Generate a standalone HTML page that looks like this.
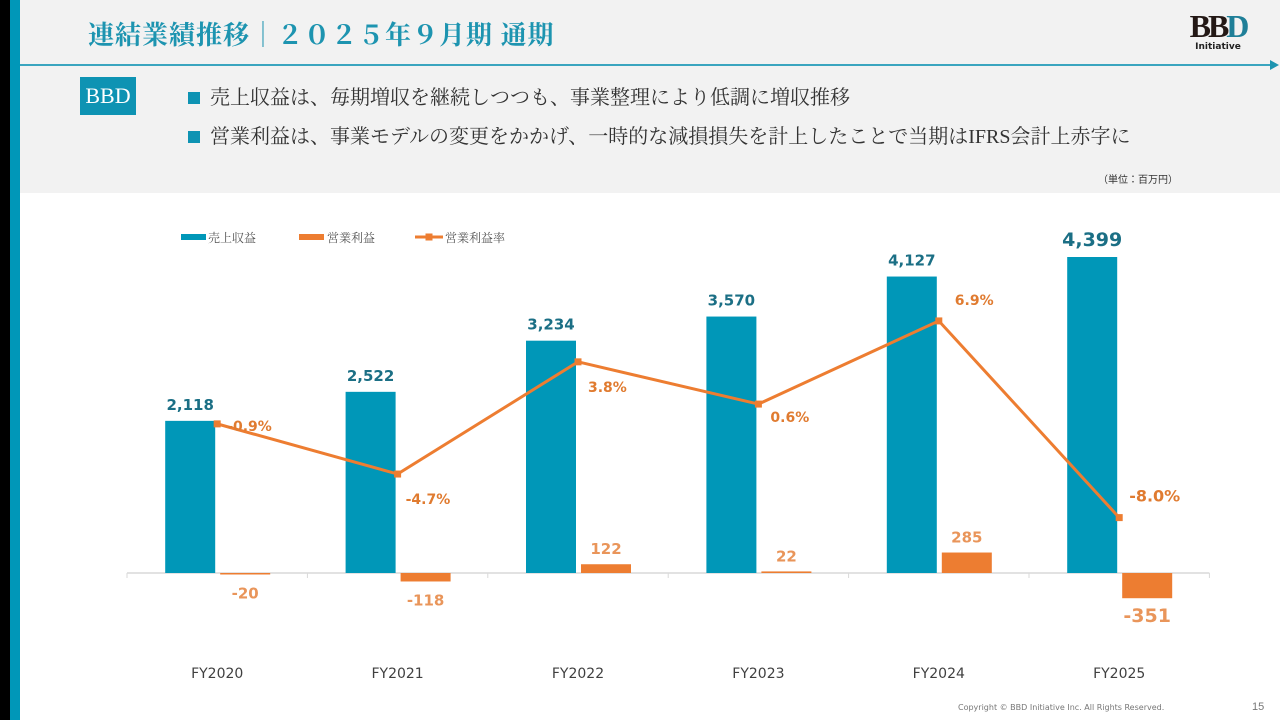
<!DOCTYPE html>
<html><head><meta charset="utf-8"><style>
body{margin:0;width:1280px;height:720px;overflow:hidden;background:#fff;font-family:"Liberation Serif","Noto Serif CJK JP",serif;position:relative}
.abs{position:absolute}
</style></head><body>
<div class="abs" style="left:0;top:0;width:1280px;height:193px;background:#f2f2f2"></div>
<div class="abs" style="left:0;top:0;width:10px;height:720px;background:#000"></div>
<div class="abs" style="left:10px;top:0;width:10px;height:720px;background:#0097b8"></div>
<div class="abs" style="left:88px;top:15px;font-size:26px;font-weight:bold;color:#1d94b0;letter-spacing:1px;white-space:nowrap">連結業績推移｜２０２５年９月期 通期</div>
<div class="abs" style="left:20px;top:64px;width:1252px;height:2px;background:#3aa5bf"></div>
<div class="abs" style="left:1270px;top:60px;width:0;height:0;border-left:9px solid #1d94b0;border-top:5px solid transparent;border-bottom:5px solid transparent"></div>
<div class="abs" style="left:1188px;top:10px;width:60px;text-align:center">
<div style="font-size:32px;font-weight:bold;line-height:32px;letter-spacing:-3px"><span style="color:#231815">BB</span><span style="color:#1f7f98">D</span></div>
<div style="font-family:'DejaVu Sans',sans-serif;font-size:9px;font-weight:bold;color:#222">Initiative</div></div>
<div class="abs" style="left:80px;top:77px;width:56px;height:38px;background:#0e93b3;color:#fff;font-size:22px;line-height:38px;text-align:center">BBD</div>
<div class="abs" style="left:188px;top:81px;font-size:20px;color:#333;white-space:nowrap"><span style="display:inline-block;width:12px;height:12px;background:#0e93b3;margin-right:10px"></span>売上収益は、毎期増収を継続しつつも、事業整理により低調に増収推移</div>
<div class="abs" style="left:188px;top:120px;font-size:20px;color:#333;white-space:nowrap"><span style="display:inline-block;width:12px;height:12px;background:#0e93b3;margin-right:10px"></span>営業利益は、事業モデルの変更をかかげ、一時的な減損損失を計上したことで当期はIFRS会計上赤字に</div>
<div class="abs" style="left:1098px;top:171px;font-size:10px;color:#333;font-family:'Liberation Sans','Noto Sans CJK JP',sans-serif">（単位：百万円）</div>
<svg class="abs" id="chart" style="left:0;top:0" width="1280" height="720"></svg>
<div class="abs" style="left:958px;top:703px;font-size:8px;color:#777;font-family:'DejaVu Sans',sans-serif">Copyright © BBD Initiative Inc. All Rights Reserved.</div>
<div class="abs" style="left:1252px;top:701px;font-size:11px;color:#777;font-family:'Liberation Sans',sans-serif">15</div>
<script>
const categories=["FY2020","FY2021","FY2022","FY2023","FY2024","FY2025"];
const revenue=[2118,2522,3234,3570,4127,4399];
const opProfit=[-20,-118,122,22,285,-351];
const opMargin=[-0.9,-4.7,3.8,0.6,6.9,-8.0];
const revLabels=["2,118","2,522","3,234","3,570","4,127","4,399"];
const marginLabels=["-0.9%","-4.7%","3.8%","0.6%","6.9%","-8.0%"];
const NS="http://www.w3.org/2000/svg";
const svg=document.getElementById('chart');
const x0=127,step=180.4,base=573,ys=316/4399;
const yv=v=>base-v*ys;
const ym=v=>412-v*13.2;
const cx=i=>x0+step*i+step/2;
function mk(t,a){const e=document.createElementNS(NS,t);for(const k in a)e.setAttribute(k,a[k]);svg.appendChild(e);return e;}
const F="'DejaVu Sans',Verdana,sans-serif";
let ax=mk('line',{x1:x0,x2:x0+step*6,y1:base,y2:base,stroke:'#d9d9d9','stroke-width':1.5});

for(let i=0;i<=6;i++){let t=mk('line',{x1:x0+step*i,x2:x0+step*i,y1:base,y2:base+5,stroke:'#d9d9d9'});
}
categories.forEach((c,i)=>{
 const c0=cx(i);
 let r=mk('rect',{x:c0-52,y:yv(revenue[i]),width:50,height:revenue[i]*ys,fill:'#0097b8'});
 
 const v=opProfit[i];const h=Math.max(Math.abs(v)*ys,1.5);
 let o=mk('rect',{x:c0+3,y:v>=0?yv(v):base,width:50,height:h,fill:'#ed7d31'});
 
 const big=i==5;
 let t=mk('text',{x:c0-27,y:yv(revenue[i])-11,'text-anchor':'middle','font-family':F,'font-weight':'bold','font-size':big?19:15,fill:'#1b6f85'});t.textContent=revLabels[i];
 
 let ot=mk('text',{x:c0+28,y:v>=0?yv(v)-10:yv(v)+24,'text-anchor':'middle','font-family':F,'font-weight':'bold','font-size':big?19:15,fill:'#e9955a'});ot.textContent=(v<0?'-':'')+Math.abs(v).toLocaleString('en-US');
 
 let xl=mk('text',{x:c0,y:678,'text-anchor':'middle','font-family':F,'font-size':14,fill:'#404040'});xl.textContent=c;
 
});
const pts=opMargin.map((m,i)=>(cx(i))+','+ym(m)).join(' ');
let pl=mk('polyline',{points:pts,fill:'none',stroke:'#ed7d31','stroke-width':3});

const off=[[10,7],[8,30],[10,30],[12,18],[16,-16],[10,-16]];
opMargin.forEach((m,i)=>{
 let p=mk('rect',{x:cx(i)-3.5,y:ym(m)-3.5,width:7,height:7,fill:'#ed7d31'});
 
 let t=mk('text',{x:cx(i)+off[i][0],y:ym(m)+off[i][1],'font-family':F,'font-weight':'bold','font-size':i==5?16:14,fill:'#e07b30'});t.textContent=marginLabels[i];
 
});
const LF="'Liberation Serif','Noto Serif CJK JP',serif";
let l1=mk('rect',{x:181,y:234,width:25,height:6,fill:'#0097b8'});
let lt1=mk('text',{x:208,y:242,'font-family':LF,'font-size':12,fill:'#555'});lt1.textContent='売上収益';
let l2=mk('rect',{x:299,y:234,width:25,height:6,fill:'#ed7d31'});
let lt2=mk('text',{x:327,y:242,'font-family':LF,'font-size':12,fill:'#555'});lt2.textContent='営業利益';
let l3=mk('line',{x1:415,x2:443,y1:237,y2:237,stroke:'#ed7d31','stroke-width':3});
let l4=mk('rect',{x:425.5,y:233.5,width:7,height:7,fill:'#ed7d31'});
let lt3=mk('text',{x:445,y:242,'font-family':LF,'font-size':12,fill:'#555'});lt3.textContent='営業利益率';
</script>
</body></html>
